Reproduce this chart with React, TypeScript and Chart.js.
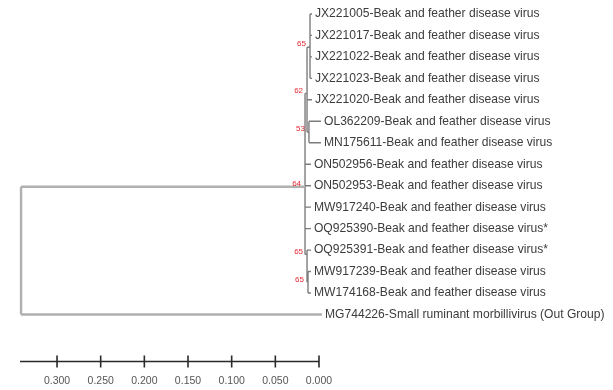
import React, { useEffect, useRef } from "react";
import { Chart, registerables } from "chart.js";
Chart.register(...registerables);

// ---- data ----
const leafLabels = [
  "JX221005-Beak and feather disease virus",
  "JX221017-Beak and feather disease virus",
  "JX221022-Beak and feather disease virus",
  "JX221023-Beak and feather disease virus",
  "JX221020-Beak and feather disease virus",
  "OL362209-Beak and feather disease virus",
  "MN175611-Beak and feather disease virus",
  "ON502956-Beak and feather disease virus",
  "ON502953-Beak and feather disease virus",
  "MW917240-Beak and feather disease virus",
  "OQ925390-Beak and feather disease virus*",
  "OQ925391-Beak and feather disease virus*",
  "MW917239-Beak and feather disease virus",
  "MW174168-Beak and feather disease virus",
  "MG744226-Small ruminant morbillivirus (Out Group)",
];
const leafRows = [1, 2, 3, 4, 5, 6, 7, 8, 9, 10, 11, 12, 13, 14, 15];
// distance from the tips (scale 0.000 at right)
const leafHeights = [
  0.008, 0.008, 0.008, 0.008, 0.008, -0.0023, -0.0023, 0.0092, 0.0092, 0.0092,
  0.0092, 0.0092, 0.0092, 0.0092, -0.0034,
];
const leafParents = [
  "N65a", "N65a", "N65a", "N65a", "N62", "N53", "N53", "A", "A", "A", "A",
  "N65b", "N65c", "N65c", "root",
];

const nodeIds = ["root", "A", "N62", "N65a", "N53", "N65b", "N65c"];
const nodeParents: (string | null)[] = [null, "root", "A", "N62", "N62", "A", "N65b"];
const nodeHeights = [0.3412, 0.016, 0.0137, 0.0103, 0.0115, 0.0137, 0.0126];
const nodeRows = [12, 9.05, 4.7, 2.55, 6.5, 12.2, 13.5];
const nodeBootstrap: (number | null)[] = [null, 64, 62, 65, 53, 65, 65];

const tickValues = [0, 0.05, 0.1, 0.15, 0.2, 0.25, 0.3];
const scaleBarRange = [0.3424, 0];

// ---- layout / style constants ----
const FONT = "'Liberation Sans', Arial, sans-serif";
const SCALE_ROW = 17.186;
const TICK_TOP_ROW = 16.907;
const TICK_BOTTOM_ROW = 17.465;

type P = { x: number; y: number };
const GAP: P = { x: NaN, y: NaN };

function buildSegments() {
  const outer: P[] = [];
  const inner: P[] = [];
  const childRows: Record<string, number[]> = {};
  nodeIds.forEach((id) => (childRows[id] = []));
  const hOf = (id: string) => nodeHeights[nodeIds.indexOf(id)];
  // horizontals for leaves
  leafParents.forEach((p, i) => {
    childRows[p].push(leafRows[i]);
    const seg = p === "root" ? outer : inner;
    seg.push({ x: hOf(p), y: leafRows[i] }, { x: leafHeights[i], y: leafRows[i] }, GAP);
  });
  // horizontals for internal nodes
  nodeParents.forEach((p, i) => {
    if (!p) return;
    childRows[p].push(nodeRows[i]);
    const seg = p === "root" ? outer : inner;
    seg.push({ x: hOf(p), y: nodeRows[i] }, { x: nodeHeights[i], y: nodeRows[i] }, GAP);
  });
  // verticals
  nodeIds.forEach((id, i) => {
    const rows = childRows[id];
    const seg = id === "root" ? outer : inner;
    seg.push(
      { x: nodeHeights[i], y: Math.min(...rows) },
      { x: nodeHeights[i], y: Math.max(...rows) },
      GAP
    );
  });
  return { outer, inner };
}

const labelPlugin = {
  id: "treeLabels",
  afterDatasetsDraw(chart: any) {
    const { ctx } = chart;
    const x = chart.scales.x;
    const y = chart.scales.y;
    ctx.save();
    ctx.font = `12.1px ${FONT}`;
    ctx.fillStyle = "#3c3c3c";
    ctx.textBaseline = "middle";
    ctx.textAlign = "left";
    leafLabels.forEach((t, i) => {
      ctx.fillText(t, x.getPixelForValue(leafHeights[i]) + 3, y.getPixelForValue(leafRows[i]));
    });
    ctx.font = `8px ${FONT}`;
    ctx.fillStyle = "#e3262f";
    ctx.textAlign = "right";
    nodeBootstrap.forEach((b, i) => {
      if (b == null) return;
      ctx.fillText(String(b), x.getPixelForValue(nodeHeights[i]) - 4, y.getPixelForValue(nodeRows[i]) - 3);
    });
    ctx.restore();
  },
};

export default function App() {
  const ref = useRef<HTMLCanvasElement | null>(null);
  useEffect(() => {
    if (!ref.current) return;
    const { outer, inner } = buildSegments();
    const bar: P[] = [
      { x: scaleBarRange[0], y: SCALE_ROW },
      { x: scaleBarRange[1], y: SCALE_ROW },
    ];
    const ticks: P[] = [];
    tickValues.forEach((v) => ticks.push({ x: v, y: TICK_TOP_ROW }, { x: v, y: TICK_BOTTOM_ROW }, GAP));
    const common = { showLine: true, pointRadius: 0, spanGaps: false, clip: false as any, tension: 0 };
    const chart = new Chart(ref.current, {
      type: "scatter",
      data: {
        datasets: [
          { ...common, data: outer, borderColor: "#b0b0b0", borderWidth: 2.4 },
          { ...common, data: inner, borderColor: "#7c7c7c", borderWidth: 1.4 },
          { ...common, data: bar, borderColor: "#2a2a2a", borderWidth: 1.6 },
          { ...common, data: ticks, borderColor: "#2a2a2a", borderWidth: 1.6 },
        ],
      },
      options: {
        animation: false,
        responsive: false,
        devicePixelRatio: 1,
        layout: { padding: { left: 20, right: 283, top: 3, bottom: 0 } },
        plugins: { legend: { display: false }, tooltip: { enabled: false } },
        scales: {
          x: {
            type: "linear",
            reverse: true,
            min: -0.0126,
            max: 0.3424,
            grid: { display: false, drawTicks: false },
            border: { display: false },
            afterBuildTicks: (s: any) => {
              s.ticks = tickValues.map((v) => ({ value: v }));
            },
            ticks: {
              autoSkip: false,
              maxRotation: 0,
              padding: 3,
              color: "#555",
              font: { size: 10.5, family: FONT },
              callback: (v: any) => Number(v).toFixed(3),
            },
          },
          y: { type: "linear", reverse: true, min: 0.49, max: 17.65, display: false },
        },
      },
      plugins: [labelPlugin],
    });
    return () => chart.destroy();
  }, []);
  return (
    <div style={{ position: "absolute", left: 0, top: 0, width: 613, height: 390, background: "#fff" }}>
      <canvas ref={ref} width={613} height={390} />
    </div>
  );
}
